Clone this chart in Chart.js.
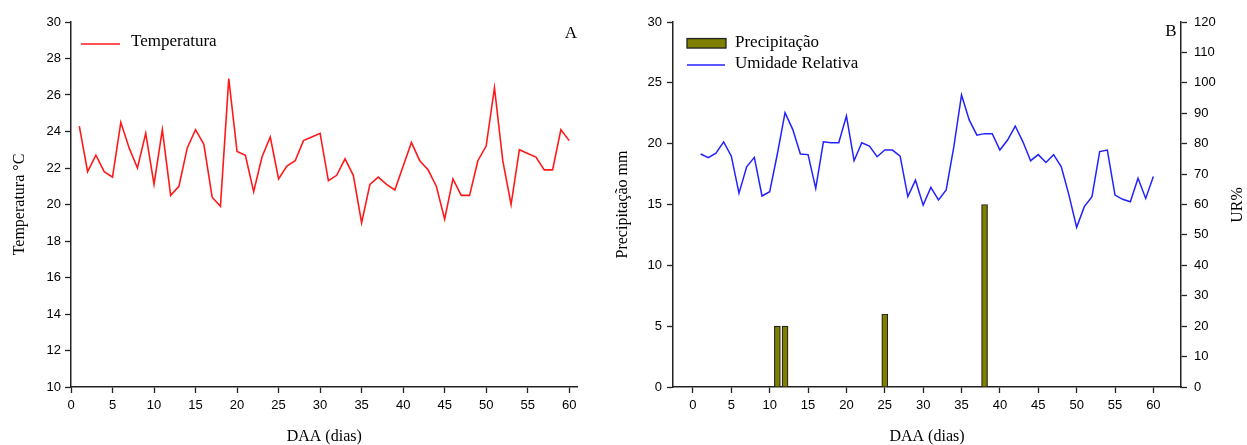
<!DOCTYPE html>
<html>
<head>
<meta charset="utf-8">
<script src="https://cdn.jsdelivr.net/npm/chart.js@4.4.0/dist/chart.umd.min.js"></script>
<style>
html,body{margin:0;padding:0;background:#fff;}
#wrap{position:relative;width:1247px;height:445px;overflow:hidden;background:#fff;}
#c1{position:absolute;left:0;top:0;width:600px;height:445px;}
#c2{position:absolute;left:600px;top:0;width:647px;height:445px;}
</style>
</head>
<body>
<div id="wrap">
<canvas id="c1" width="600" height="445"></canvas>
<canvas id="c2" width="647" height="445"></canvas>
</div>
<script>
// ---- data ----
const days = [1,2,3,4,5,6,7,8,9,10,11,12,13,14,15,16,17,18,19,20,21,22,23,24,25,26,27,28,29,30,
              31,32,33,34,35,36,37,38,39,40,41,42,43,44,45,46,47,48,49,50,51,52,53,54,55,56,57,58,59,60];
const temperatura = [24.3,21.8,22.7,21.8,21.5,24.5,23.1,22.0,23.9,21.1,
                     24.1,20.5,21.0,23.1,24.1,23.3,20.4,19.9,26.9,22.9,
                     22.7,20.7,22.6,23.7,21.4,22.1,22.4,23.5,23.7,23.9,
                     21.3,21.6,22.5,21.6,19.0,21.1,21.5,21.1,20.8,22.1,
                     23.4,22.4,21.9,21.0,19.2,21.4,20.5,20.5,22.4,23.2,
                     26.4,22.4,20.0,23.0,22.8,22.6,21.9,21.9,24.1,23.5];
const umidadeRelativa = [76.6,75.4,76.9,80.6,75.9,63.7,72.4,75.5,62.8,64.2,
                         76.6,90.2,84.7,76.6,76.4,65.3,80.6,80.3,80.3,89.1,
                         74.4,80.3,79.2,75.7,77.9,77.9,75.9,62.6,68.0,59.8,
                         65.6,61.5,64.8,79.0,96.0,87.8,82.8,83.3,83.3,77.9,
                         81.2,85.8,80.6,74.4,76.4,73.8,76.4,72.4,63.1,52.5,
                         59.3,62.6,77.4,77.9,63.1,61.7,60.9,68.6,62.0,69.2];
const precipDays = [11,12,25,38];
const precipitacao = [5,5,6,15];

const xTicks = [0,5,10,15,20,25,30,35,40,45,50,55,60];
const tempTicks = [10,12,14,16,18,20,22,24,26,28,30];
const precipTicks = [0,5,10,15,20,25,30];
const urTicks = [0,10,20,30,40,50,60,70,80,90,100,110,120];

// ---- styling helpers ----
Chart.defaults.color = '#000';
const AXIS = '#222';
const tickFont = {family: "'Liberation Sans', Arial, sans-serif", size: 13};
const titleFont = {family: "'Liberation Serif', 'Times New Roman', serif", size: 16, lineHeight: 1};
const serif17 = "17px 'Liberation Serif', 'Times New Roman', serif";

function fixedTicks(arr){ return s => { s.ticks = arr.map(v => ({value: v})); }; }

function gridOpts(){
  return {drawOnChartArea:false, drawTicks:true, offset:false, tickLength:6, tickColor:AXIS, tickWidth:1.3};
}
function borderOpts(){ return {display:true, color:AXIS, width:1.5}; }

// Overlay plugin: legend items, panel letters, rotated titles
const overlay = {
  id: 'overlay',
  afterDraw(chart, args, opts) {
    const ctx = chart.ctx;
    ctx.save();
    ctx.textBaseline = 'middle';
    ctx.fillStyle = '#000';
    (opts.legend || []).forEach(it => {
      const ds = chart.data.datasets[it.dataset];
      if (it.kind === 'line') {
        ctx.strokeStyle = ds.borderColor;
        ctx.lineWidth = 1.5;
        ctx.beginPath();
        ctx.moveTo(it.x, it.y); ctx.lineTo(it.x + it.w, it.y);
        ctx.stroke();
      } else {
        ctx.fillStyle = ds.backgroundColor;
        ctx.fillRect(it.x, it.y - it.h/2, it.w, it.h);
        ctx.strokeStyle = ds.borderColor;
        ctx.lineWidth = 1.3;
        ctx.strokeRect(it.x, it.y - it.h/2, it.w, it.h);
      }
      ctx.fillStyle = '#000';
      ctx.font = serif17;
      ctx.textAlign = 'left';
      ctx.fillText(ds.label, it.x + it.w + it.gap, it.ty);
    });
    (opts.texts || []).forEach(t => {
      ctx.save();
      ctx.font = t.font || serif17;
      ctx.textAlign = 'center';
      ctx.translate(t.x, t.y);
      if (t.rot) ctx.rotate(t.rot);
      ctx.fillText(t.text, 0, 0);
      ctx.restore();
    });
    ctx.restore();
  }
};

// ---- Chart A ----
new Chart(document.getElementById('c1'), {
  type: 'line',
  data: {
    datasets: [{
      label: 'Temperatura',
      data: days.map((d,i) => ({x:d, y:temperatura[i]})),
      borderColor: '#ff1a1a',
      backgroundColor: '#ff1a1a',
      borderWidth: 1.6,
      pointRadius: 0,
      tension: 0,
      fill: false
    }]
  },
  options: {
    responsive: false,
    animation: false,
    events: [],
    layout: {padding: {left:0, right:22.5, top:22, bottom:0}},
    plugins: {
      legend: {display:false},
      tooltip: {enabled:false},
      overlay: {
        legend: [{dataset:0, kind:'line', x:81, y:44, w:39, gap:11, ty:42}],
        texts: [{text:'A', x:571, y:34}]
      }
    },
    scales: {
      x: {
        type:'linear', min:0, max:61, offset:false,
        afterBuildTicks: fixedTicks(xTicks),
        afterFit: s => { s.height = 58; },
        grid: gridOpts(), border: borderOpts(),
        ticks: {font: tickFont, padding: 5, maxRotation:0, autoSkip:false},
        title: {display:true, text:'DAA (dias)', font:titleFont, padding:{top:0,bottom:0}}
      },
      y: {
        type:'linear', min:10, max:30,
        afterBuildTicks: fixedTicks(tempTicks),
        afterFit: s => { s.width = 71; },
        grid: gridOpts(), border: borderOpts(),
        ticks: {font: tickFont, padding: 4},
        title: {display:true, text:'Temperatura °C', font:titleFont, padding:{top:12,bottom:0}}
      }
    }
  },
  plugins: [overlay]
});

// ---- Chart B ----
new Chart(document.getElementById('c2'), {
  type: 'bar',
  data: {
    datasets: [{
      type: 'bar',
      label: 'Precipitação',
      data: precipDays.map((d,i) => ({x:d, y:precipitacao[i]})),
      backgroundColor: '#7f7f00',
      borderColor: '#222',
      borderWidth: 1.2,
      barThickness: 6,
      yAxisID: 'y',
      order: 2
    },{
      type: 'line',
      label: 'Umidade Relativa',
      data: days.map((d,i) => ({x:d, y:umidadeRelativa[i]})),
      borderColor: '#2222ff',
      backgroundColor: '#2222ff',
      borderWidth: 1.5,
      pointRadius: 0,
      tension: 0,
      fill: false,
      yAxisID: 'y1',
      order: 1
    }]
  },
  options: {
    responsive: false,
    animation: false,
    events: [],
    layout: {padding: {left:0, right:0, top:22, bottom:0}},
    plugins: {
      legend: {display:false},
      tooltip: {enabled:false},
      overlay: {
        legend: [
          {dataset:0, kind:'box', x:87, y:43.3, w:39, h:9.5, gap:9, ty:43},
          {dataset:1, kind:'line', x:87, y:65, w:38, gap:10, ty:63.5}
        ],
        texts: [
          {text:'B', x:571, y:32},
          {text:'UR%', x:638, y:205, rot:-Math.PI/2, font:"16px 'Liberation Serif', 'Times New Roman', serif"}
        ]
      }
    },
    scales: {
      x: {
        type:'linear', min:-2.6, max:63.6, offset:false,
        afterBuildTicks: fixedTicks(xTicks),
        afterFit: s => { s.height = 58; },
        grid: gridOpts(), border: borderOpts(),
        ticks: {font: tickFont, padding: 5, maxRotation:0, autoSkip:false},
        title: {display:true, text:'DAA (dias)', font:titleFont, padding:{top:0,bottom:0}}
      },
      y: {
        type:'linear', position:'left', min:0, max:30,
        afterBuildTicks: fixedTicks(precipTicks),
        afterFit: s => { s.width = 73; },
        grid: gridOpts(), border: borderOpts(),
        ticks: {font: tickFont, padding: 5},
        title: {display:true, text:'Precipitação mm', font:titleFont, padding:{top:15,bottom:0}}
      },
      y1: {
        type:'linear', position:'right', min:0, max:120,
        afterBuildTicks: fixedTicks(urTicks),
        afterFit: s => { s.width = 66; },
        grid: gridOpts(), border: borderOpts(),
        ticks: {font: tickFont, padding: 7},
        title: {display:false, text:'UR%'}
      }
    }
  },
  plugins: [overlay]
});
</script>
</body>
</html>
